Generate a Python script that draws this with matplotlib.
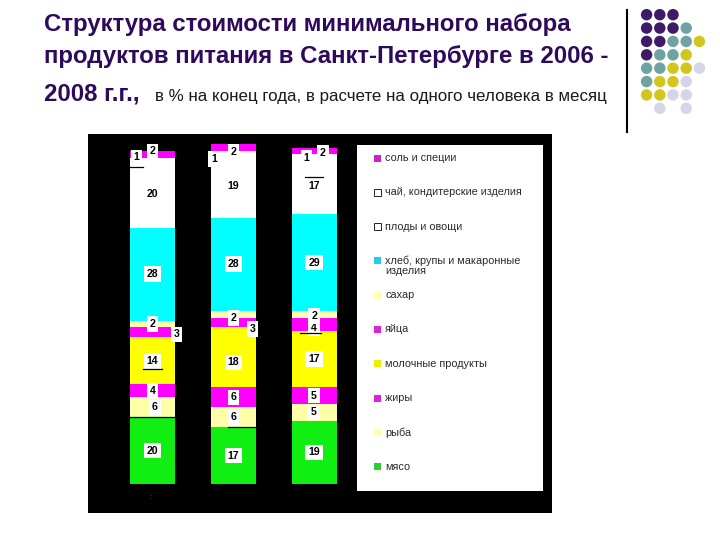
import numpy as np
import matplotlib
matplotlib.use("Agg")
import matplotlib.pyplot as plt
from matplotlib.patches import Rectangle

plt.rcParams['font.family'] = ['Liberation Sans', 'DejaVu Sans']

# data, bottom of the stack first
categories = ['мясо', 'рыба', 'жиры', 'молочные продукты', 'яйца', 'сахар',
              'хлеб, крупы и макаронные\nизделия', 'плоды и овощи',
              'чай, кондитерские изделия', 'соль и специи']
years = ['2006', '2007', '2008']
v2006 = [20, 6, 4, 14, 3, 2, 28, 20, 1, 2]
v2007 = [17, 6, 6, 18, 3, 2, 28, 19, 1, 2]
v2008 = [19, 5, 5, 17, 4, 2, 29, 17, 1, 2]
values = [v2006, v2007, v2008]

colors = ['#11ee11', '#ffffa8', '#ff00ff', '#ffff00', '#ff00ff', '#ffffa8',
          '#00ffff', '#ffffff', '#ffffff', '#ff00ff']
legend_colors = ['#33cc33', '#ffffb0', '#dd22dd', '#eeee00', '#dd22dd', '#ffffb0',
                 '#22ccee', '#ffffff', '#ffffff', '#cc22cc']

# label nudges (x units, % units) for crowded segments
nudge = {(0, 4): (0.30, -0.6), (0, 8): (-0.20, 0.6), (0, 9): (0.0, 0.9),
         (0, 1): (0.03, 0.0),
         (1, 4): (0.24, -2.0), (1, 5): (0.0, -1.2), (1, 8): (-0.24, -1.9),
         (1, 9): (0.0, -1.3), (1, 3): (0.0, -1.5),
         (2, 4): (0.0, -1.2), (2, 5): (0.0, -0.6), (2, 8): (-0.09, -0.6),
         (2, 9): (0.11, -0.5)}

W, H = 720, 540
fig = plt.figure(figsize=(7.2, 5.4), dpi=100, facecolor='white')

def fx(px):
    return px / W

def fy(py):
    return 1 - py / H

# title
purple = '#2e0a5c'
fig.text(fx(44), fy(25), 'Структура стоимости минимального набора',
         fontsize=17.3, weight='bold', color=purple, va='center')
fig.text(fx(44), fy(57), 'продуктов питания в Санкт-Петербурге в 2006 -',
         fontsize=17.3, weight='bold', color=purple, va='center')
fig.text(fx(44), fy(94), '2008 г.г.,', fontsize=17.3, weight='bold',
         color=purple, va='center')
fig.text(fx(155), fy(96), 'в % на конец года, в расчете на одного человека в месяц',
         fontsize=12.2, color='#1a1a1a', va='center')

# vertical rule and dots decoration
fig.add_artist(plt.Line2D([fx(627), fx(627)], [fy(10), fy(132)],
                          color='black', lw=1.5))
dot_rows = ["PPP..", "PPPT.", "PPTTY", "PTTY.", "TTYYL", "TYYL.", "YYLL.", ".L.L."]
dot_colors = {'P': '#3d1b66', 'T': '#6fa3a3', 'Y': '#d2c61e', 'L': '#d5d5e8'}
axd = fig.add_axes([fx(640), fy(115), fx(706) - fx(640), fy(8) - fy(115)])
axd.set_xlim(-0.5, 4.5)
axd.set_ylim(7.5, -0.5)
axd.axis('off')
for r, row in enumerate(dot_rows):
    for c, ch in enumerate(row):
        if ch != '.':
            axd.scatter(c, r, s=68, color=dot_colors[ch], edgecolors='none')

# main chart: black area
ax = fig.add_axes([fx(88), fy(513), fx(552) - fx(88), fy(134) - fy(513)])
ax.set_facecolor('black')
unit_y = 3.33
unit_x = 80.75
ax.set_xlim(-(152.5 - 88) / unit_x, (552 - 152.5) / unit_x)
ax.set_ylim(-(513 - 484) / unit_y, (484 - 134) / unit_y)
for s in ax.spines.values():
    s.set_visible(False)
ax.set_xticks([])
ax.set_yticks([])

x = np.arange(len(years))
bw = 45 / unit_x
for i, vals in enumerate(values):
    bottom = 0
    for j, v in enumerate(vals):
        ax.bar(x[i], v, bw, bottom=bottom, color=colors[j], edgecolor='none')
        dx, dy = nudge.get((i, j), (0, 0))
        ax.text(x[i] + dx, bottom + v / 2 + dy, str(v), ha='center',
                va='center', fontsize=7.6, weight='bold', color='black',
                bbox=dict(fc='white', ec='none', pad=2.0))
        bottom += v

# leader line leftovers
lk = dict(color='black', lw=0.9, zorder=5)
ax.plot([-0.28, -0.12], [95.3, 95.3], **lk)
ax.plot([-0.12, 0.12], [34.6, 34.6], **lk)
ax.plot([-bw / 2, bw / 2], [20, 20], **lk)
ax.plot([1 - 0.07, 1 + bw / 2], [17, 17], **lk)
ax.plot([1.89, 2.11], [92.2, 92.2], **lk)
ax.plot([1.83, 2.09], [45.3, 45.3], **lk)
ax.text(-0.03, -4, ':', color='#777777', fontsize=5, ha='center', va='center')

# legend box
lx0, lx1, ly0, ly1 = 357, 543, 145, 491
axl = fig.add_axes([fx(lx0), fy(ly1), fx(lx1) - fx(lx0), fy(ly0) - fy(ly1)])
axl.set_xlim(lx0, lx1)
axl.set_ylim(ly1, ly0)
axl.set_facecolor('white')
for s in axl.spines.values():
    s.set_visible(False)
axl.set_xticks([])
axl.set_yticks([])
n = len(categories)
for k in range(n):
    j = n - 1 - k
    yy = 158 + k * 34.3
    ec = 'black' if colors[j] == '#ffffff' else 'none'
    axl.add_patch(Rectangle((374, yy - 3.5), 7, 7, fc=legend_colors[j],
                            ec=ec, lw=0.6))
    axl.text(385, yy - 5, categories[j], fontsize=7.8, color='#2a2a2a',
             va='top', ha='left', linespacing=1.0)

fig.savefig('out.png', dpi=100, facecolor='white')
